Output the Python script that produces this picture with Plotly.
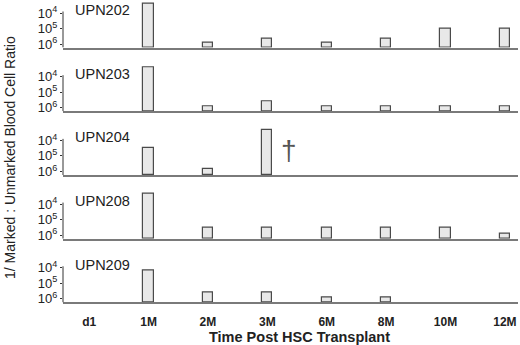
import plotly.graph_objects as go
from plotly.subplots import make_subplots

categories = ["d1", "1M", "2M", "3M", "6M", "8M", "10M", "12M"]
patients = ["UPN202", "UPN203", "UPN204", "UPN208", "UPN209"]
# exponent of the 1/(marked:unmarked) ratio (10^x)
upn202 = [None, 3.42, 5.92, 5.63, 5.92, 5.63, 5.0, 5.0]
upn203 = [None, 3.37, 5.92, 5.60, 5.92, 5.92, 5.92, 5.92]
upn204 = [None, 4.47, 5.87, 3.35, None, None, None, None]
upn208 = [None, 3.35, 5.55, 5.55, 5.55, 5.55, 5.55, 5.90]
upn209 = [None, 4.19, 5.60, 5.60, 5.94, 5.94, None, None]
series = [upn202, upn203, upn204, upn208, upn209]
ytick_vals = [4, 5, 6]
ytick_text = ["10<sup>4</sup>", "10<sup>5</sup>", "10<sup>6</sup>"]

BASE = 6.23
TOP = 3.2
FONT = "Liberation Sans, Arial, sans-serif"

W, H = 520, 345
ML, MR, MT, MB = 63, 2, 0, 42
PH = H - MT - MB
px_per_dec = 15.5
panel_h = (BASE - TOP) * px_per_dec
baselines = [47.6 + 63.7 * k for k in range(5)]

fig = make_subplots(rows=5, cols=1, shared_xaxes=True)

for i, (name, vals) in enumerate(zip(patients, series)):
    r = i + 1
    xs = [c for c, v in zip(categories, vals) if v is not None]
    ys = [v - BASE for v in vals if v is not None]
    fig.add_trace(go.Bar(
        x=xs, y=ys, base=BASE, width=0.17,
        marker=dict(color="#e8e8e8", line=dict(color="#4a4a4a", width=1.2)),
        showlegend=False, hoverinfo="skip"), row=r, col=1)
    b = baselines[i]
    y0 = (PH - b) / PH
    y1 = (PH - (b - panel_h)) / PH
    yk = "yaxis" if r == 1 else f"yaxis{r}"
    xk = "xaxis" if r == 1 else f"xaxis{r}"
    fig.layout[yk].update(
        domain=[max(y0, 0), min(y1, 1)], range=[BASE, TOP], showgrid=False, zeroline=False,
        tickvals=ytick_vals, ticktext=ytick_text, ticks="outside", ticklen=2,
        tickcolor="#333", showline=False,
        tickfont=dict(family=FONT, size=13, color="#222"))
    fig.layout[xk].update(
        categoryorder="array", categoryarray=categories, range=[-0.44, 7.22],
        showline=True, linecolor="#7a7a7a", linewidth=1.6, showgrid=False,
        zeroline=False, ticks="", showticklabels=(r == 5),
        tickfont=dict(family=FONT, size=12, color="#222", weight="bold"),
        ticklabelstandoff=7)
    xr = "x" if r == 1 else f"x{r}"
    yr = "y" if r == 1 else f"y{r}"
    # thin vertical y axis line from just above 10^4 down to the baseline
    fig.add_shape(type="line", xref=f"{xr} domain", yref=yr, x0=0, x1=0,
                  y0=3.9, y1=BASE, line=dict(color="#333", width=1))
    fig.add_annotation(text=name, xref=f"{xr} domain", yref=f"{yr} domain",
                       x=0.022, y=37.6 / panel_h, xanchor="left", yanchor="middle",
                       showarrow=False, font=dict(family=FONT, size=14.5, color="#222"))

# dagger for UPN204
fig.add_annotation(text="†", xref="x3", yref="y3", x=3.37, y=4.62,
                   showarrow=False, font=dict(family=FONT, size=28, color="#555"))

fig.add_annotation(text="1/ Marked : Unmarked Blood Cell Ratio", xref="paper", yref="paper",
                   x=(10 - ML) / (W - ML - MR), y=(PH - 158) / PH, textangle=-90,
                   showarrow=False, xanchor="center", yanchor="middle",
                   font=dict(family=FONT, size=14, color="#222"))
fig.add_annotation(text="<b>Time Post HSC Transplant</b>", xref="paper", yref="paper",
                   x=(299 - ML) / (W - ML - MR), y=(PH - 337) / PH, showarrow=False,
                   xanchor="center", yanchor="middle",
                   font=dict(family=FONT, size=14.5, color="#222"))

fig.update_layout(width=W, height=H, margin=dict(l=ML, r=MR, t=MT, b=MB),
                  plot_bgcolor="white", paper_bgcolor="white", bargap=0)
fig.write_html("out.html", config={"displayModeBar": False},
               post_script="document.body.style.margin='0px';")
